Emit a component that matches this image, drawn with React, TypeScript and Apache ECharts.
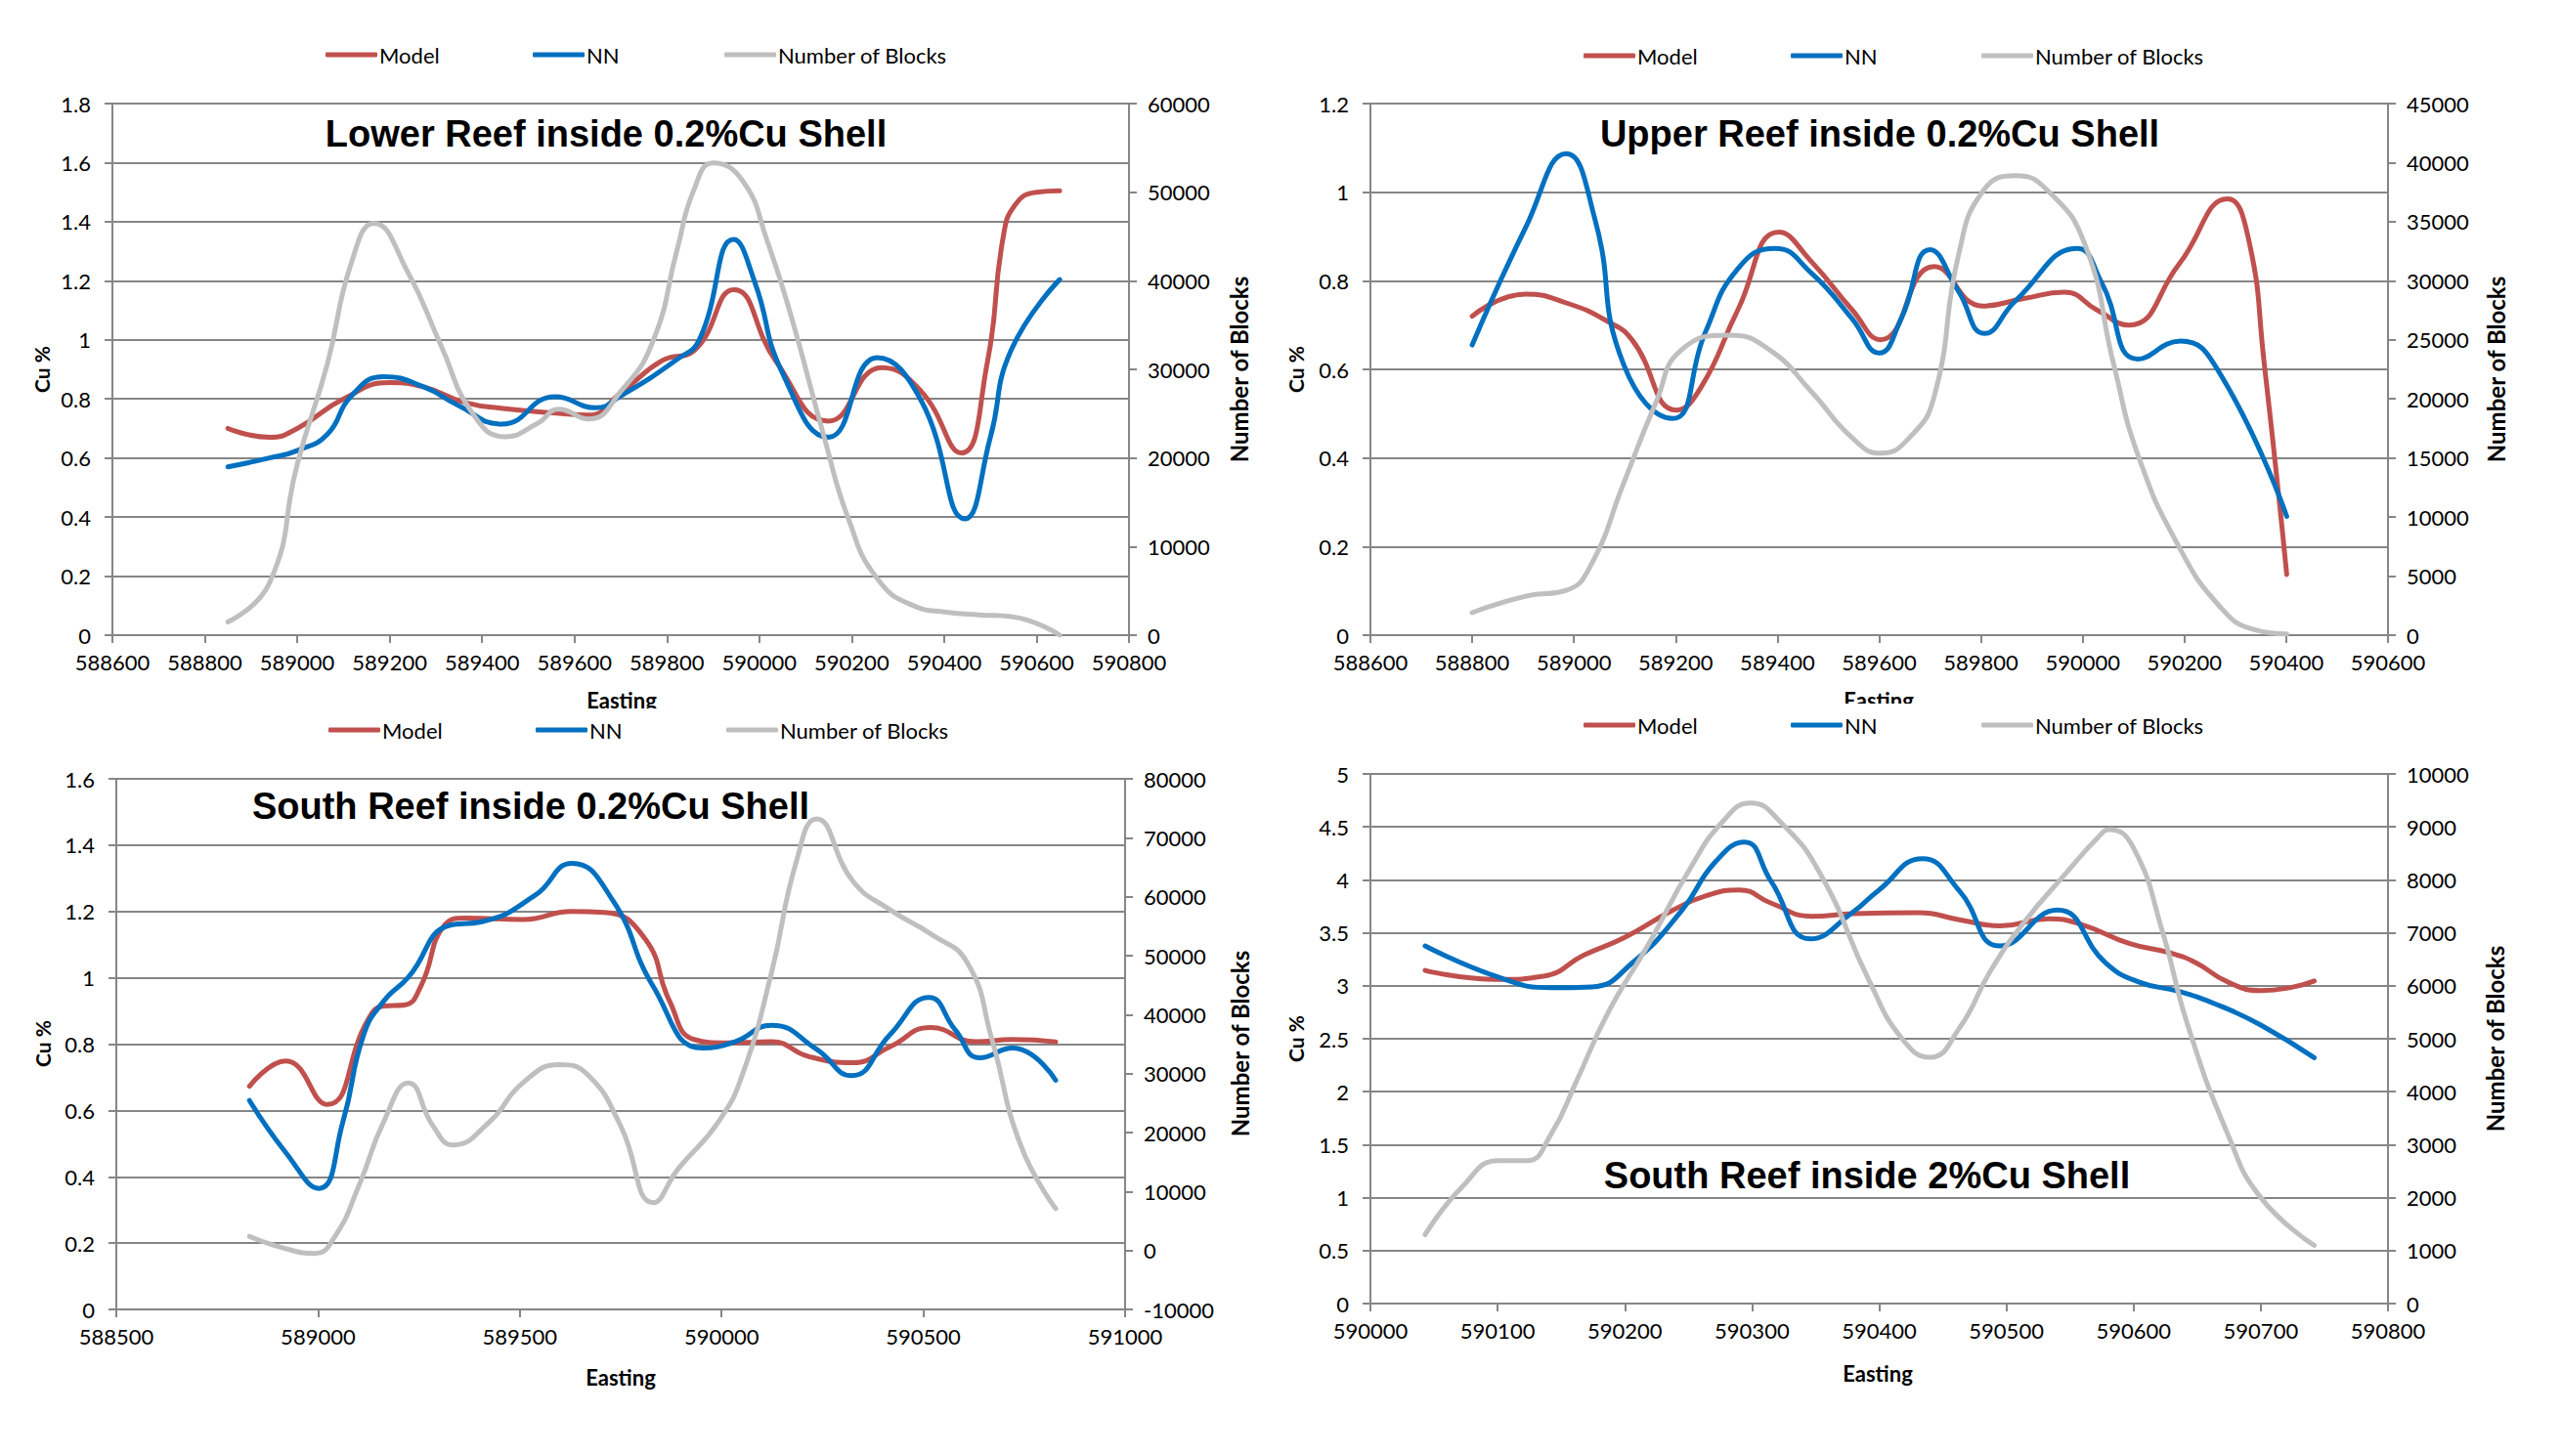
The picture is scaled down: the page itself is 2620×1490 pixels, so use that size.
import React, { useEffect, useRef } from "react";
import * as echarts from "echarts";

// ---------- DATA ----------
const seriesNames = ["Model", "NN", "Number of Blocks"];

const titles = [
  "Lower Reef inside 0.2%Cu Shell",
  "Upper Reef inside 0.2%Cu Shell",
  "South Reef inside 0.2%Cu Shell",
  "South Reef inside 2%Cu Shell",
];

// Lower Reef inside 0.2%Cu Shell  [Easting, value]
const lowerModel = [
  [588850, 0.70], [588940, 0.67], [589000, 0.70], [589100, 0.80], [589200, 0.855],
  [589275, 0.84], [589365, 0.787], [589450, 0.767], [589560, 0.752], [589630, 0.745],
  [589700, 0.82], [589790, 0.93], [589860, 0.965], [589945, 1.17], [590035, 0.93],
  [590150, 0.725], [590265, 0.906], [590350, 0.826], [590437, 0.617], [590493, 0.92],
  [590528, 1.35], [590555, 1.46], [590600, 1.50], [590650, 1.505],
];
const lowerNN = [
  [588850, 0.57], [588940, 0.60], [589000, 0.625], [589065, 0.68], [589117, 0.81],
  [589187, 0.875], [589275, 0.84], [589346, 0.78], [589443, 0.715], [589558, 0.807],
  [589646, 0.77], [589700, 0.81], [589822, 0.934], [589870, 1.0], [589945, 1.34],
  [589990, 1.196], [590050, 0.888], [590150, 0.67], [590255, 0.94], [590350, 0.795],
  [590445, 0.394], [590500, 0.67], [590545, 0.965], [590650, 1.204],
];
const lowerBlocks = [
  [588850, 1500], [588940, 5900], [589000, 19300], [589065, 30600], [589117, 42000],
  [589166, 46500], [589240, 40900], [589311, 32700], [589380, 25000], [589450, 22400],
  [589520, 23900], [589566, 25500], [589630, 24400], [589700, 27500], [589770, 33200],
  [589822, 43500], [589858, 50200], [589900, 53300], [589965, 51200], [590017, 44500],
  [590070, 35800], [590140, 22400], [590193, 13100], [590255, 6400], [590335, 3300],
  [590405, 2600], [590475, 2300], [590545, 2100], [590650, 0],
];

// Upper Reef inside 0.2%Cu Shell
const upperModel = [
  [588800, 0.72], [588905, 0.77], [588985, 0.75], [589065, 0.709], [589114, 0.667],
  [589202, 0.508], [589250, 0.56], [589322, 0.734], [589403, 0.91], [589467, 0.843],
  [589547, 0.734], [589603, 0.667], [589708, 0.832], [589804, 0.743], [589884, 0.76],
  [589964, 0.774], [590028, 0.734], [590090, 0.70], [590189, 0.837], [590285, 0.985],
  [590325, 0.899], [590357, 0.611], [590401, 0.137],
];
const upperNN = [
  [588800, 0.655], [588905, 0.92], [588985, 1.087], [589041, 0.94], [589098, 0.61],
  [589194, 0.489], [589258, 0.683], [589322, 0.827], [589395, 0.873], [589467, 0.817],
  [589547, 0.714], [589600, 0.637], [589643, 0.714], [589700, 0.87], [589756, 0.776],
  [589807, 0.681], [589868, 0.755], [589989, 0.873], [590037, 0.796], [590109, 0.623],
  [590192, 0.664], [590270, 0.59], [590401, 0.268],
];
const upperBlocks = [
  [588800, 1900], [588905, 3300], [588985, 3800], [589033, 5900], [589098, 12900],
  [589162, 19800], [589210, 24100], [589306, 25400], [589386, 24100], [589467, 20600],
  [589547, 16700], [589603, 15400], [589659, 16700], [589708, 20200], [589756, 32200],
  [589804, 37600], [589868, 38900], [589932, 37600], [590005, 33000], [590061, 22900],
  [590109, 15200], [590189, 7500], [590270, 2400], [590334, 500], [590401, 100],
];

// South Reef inside 0.2%Cu Shell
const southModel = [
  [588830, 0.673], [588920, 0.749], [589022, 0.618], [589123, 0.872], [589163, 0.915],
  [589214, 0.918], [589254, 0.973], [589315, 1.161], [589365, 1.18], [589507, 1.176],
  [589629, 1.20], [589710, 1.197], [589810, 1.118], [589871, 0.93], [589932, 0.814],
  [590013, 0.804], [590124, 0.807], [590215, 0.763], [590326, 0.744], [590417, 0.792],
  [590518, 0.85], [590630, 0.807], [590721, 0.814], [590828, 0.807],
];
const southNN = [
  [588830, 0.63], [588920, 0.473], [589002, 0.365], [589062, 0.568], [589113, 0.828],
  [589163, 0.93], [589224, 1.002], [589325, 1.158], [589406, 1.169], [589537, 1.248],
  [589629, 1.345], [589730, 1.234], [589831, 0.973], [589952, 0.788], [590033, 0.807],
  [590124, 0.857], [590235, 0.785], [590322, 0.705], [590417, 0.828], [590514, 0.941],
  [590579, 0.843], [590640, 0.759], [590721, 0.788], [590828, 0.691],
];
const southBlocks = [
  [588830, 2400], [588920, 300], [588991, -500], [589042, 2400], [589103, 11300],
  [589163, 21900], [589224, 28400], [589285, 21100], [589335, 17900], [589426, 21900],
  [589507, 28400], [589599, 31500], [589670, 29700], [589750, 21100], [589831, 8100],
  [589892, 13800], [589993, 21900], [590053, 30100], [590124, 47200], [590185, 65900],
  [590235, 73200], [590326, 62600], [590417, 57800], [590518, 53700], [590609, 48800],
  [590670, 35800], [590741, 17900], [590828, 7100],
];

// South Reef inside 2%Cu Shell
const south2Model = [
  [590043, 3.145], [590101, 3.06], [590136, 3.09], [590168, 3.29], [590200, 3.457],
  [590238, 3.715], [590264, 3.85], [590290, 3.905], [590315, 3.78], [590347, 3.656],
  [590379, 3.68], [590431, 3.69], [590463, 3.624], [590495, 3.566], [590533, 3.633],
  [590559, 3.579], [590597, 3.398], [590629, 3.31], [590649, 3.217], [590674, 3.036],
  [590700, 2.955], [590726, 2.99], [590742, 3.045],
];
const south2NN = [
  [590043, 3.376], [590101, 3.08], [590142, 2.982], [590174, 2.99], [590206, 3.217],
  [590245, 3.715], [590271, 4.167], [590294, 4.357], [590315, 3.986], [590346, 3.443],
  [590379, 3.692], [590399, 3.896], [590434, 4.199], [590463, 3.896], [590495, 3.376],
  [590540, 3.715], [590578, 3.217], [590604, 3.036], [590636, 2.946], [590668, 2.81],
  [590700, 2.629], [590742, 2.321],
];
const south2Blocks = [
  [590043, 1300], [590072, 2200], [590101, 2700], [590123, 2700], [590142, 3200],
  [590162, 4200], [590187, 5500], [590219, 6800], [590251, 8200], [590277, 9100],
  [590299, 9450], [590322, 9100], [590354, 8100], [590392, 6100], [590418, 5000],
  [590440, 4650], [590463, 5200], [590488, 6300], [590514, 7200], [590546, 8100],
  [590572, 8800], [590581, 8950], [590600, 8600], [590623, 7000], [590642, 5300],
  [590674, 3200], [590700, 2000], [590742, 1100],
];

// Axis ranges [min, max, interval]
const xRanges = [
  [588600, 590800, 200],
  [588600, 590600, 200],
  [588500, 591000, 500],
  [590000, 590800, 100],
];
const leftRanges = [
  [0, 1.8, 0.2],
  [0, 1.2, 0.2],
  [0, 1.6, 0.2],
  [0, 5, 0.5],
];
const rightRanges = [
  [0, 60000, 10000],
  [0, 45000, 5000],
  [-10000, 80000, 10000],
  [0, 10000, 1000],
];

const panelData = [
  [lowerModel, lowerNN, lowerBlocks],
  [upperModel, upperNN, upperBlocks],
  [southModel, southNN, southBlocks],
  [south2Model, south2NN, south2Blocks],
];

// ---------- LAYOUT / STYLE ----------
const FONT = "Lato, 'Open Sans', 'DejaVu Sans', sans-serif";
const TITLE_FONT = "bold 38px 'Liberation Sans', Arial, sans-serif";
const COLORS = ["#C0504D", "#0070C0", "#BFBFBF"];
const AXIS_COLOR = "#868686";

const layouts = [
  {
    grid: { left: 115, top: 106, width: 1040, height: 544 },
    legendX: [333, 545, 741], legendY: 56,
    titleX: 620, titleY: 137,
    cuX: 42, nbX: 1267, midY: 378, eastX: 636, eastY: 719,
    clipY: 725,
  },
  {
    grid: { left: 1402, top: 106, width: 1041, height: 544 },
    legendX: [1620, 1832, 2027], legendY: 57,
    titleX: 1923, titleY: 137,
    cuX: 1325, nbX: 2553, midY: 378, eastX: 1922, eastY: 719,
    clipY: 720,
  },
  {
    grid: { left: 119, top: 797, width: 1032, height: 543 },
    legendX: [336, 548, 743], legendY: 747,
    titleX: 543, titleY: 825,
    cuX: 43, nbX: 1268, midY: 1068, eastX: 635, eastY: 1409,
    clipY: 0,
  },
  {
    grid: { left: 1402, top: 792, width: 1041, height: 542 },
    legendX: [1620, 1832, 2027], legendY: 742,
    titleX: 1910, titleY: 1203,
    cuX: 1325, nbX: 2552, midY: 1063, eastX: 1921, eastY: 1405,
    clipY: 0,
  },
];

const plain = (v: number) => String(v);

function buildOption() {
  const axisLine = { show: true, onZero: false, lineStyle: { color: AXIS_COLOR, width: 2 } };
  const axisTick = { show: true, inside: false, length: 8, lineStyle: { color: AXIS_COLOR, width: 2 } };
  const labelBase = { color: "#000", fontSize: 22, fontFamily: FONT };

  const grid = layouts.map((l) => ({ ...l.grid, containLabel: false }));

  const xAxis = xRanges.map((r, i) => ({
    type: "value",
    gridIndex: i,
    min: r[0],
    max: r[1],
    interval: r[2],
    axisLine,
    axisTick,
    splitLine: { show: false },
    axisLabel: { ...labelBase, margin: 16, formatter: plain },
  }));

  const yAxis: any[] = [];
  layouts.forEach((_, i) => {
    const L = leftRanges[i];
    const R = rightRanges[i];
    yAxis.push({
      type: "value",
      gridIndex: i,
      position: "left",
      min: L[0],
      max: L[1],
      interval: L[2],
      axisLine,
      axisTick,
      splitLine: { show: true, lineStyle: { color: AXIS_COLOR, width: 2 } },
      axisLabel: { ...labelBase, margin: 22 },
    });
    yAxis.push({
      type: "value",
      gridIndex: i,
      position: "right",
      min: R[0],
      max: R[1],
      interval: R[2],
      axisLine,
      axisTick,
      splitLine: { show: false },
      axisLabel: { ...labelBase, margin: 19, formatter: plain },
    });
  });

  const series: any[] = [];
  panelData.forEach((sets, i) => {
    sets.forEach((data, k) => {
      series.push({
        type: "line",
        name: seriesNames[k],
        xAxisIndex: i,
        yAxisIndex: k === 2 ? 2 * i + 1 : 2 * i,
        data,
        smooth: true,
        showSymbol: false,
        symbol: "none",
        color: COLORS[k],
        lineStyle: { color: COLORS[k], width: 5, cap: "round", join: "round" },
        z: 2 + k,
      });
    });
  });

  const legend: any[] = [];
  layouts.forEach((l) => {
    seriesNames.forEach((n, k) => {
      legend.push({
        data: [n],
        left: l.legendX[k],
        top: l.legendY - 11,
        padding: 0,
        itemGap: 0,
        itemWidth: 53,
        itemHeight: 5,
        icon: "roundRect",
        selectedMode: false,
        textStyle: { color: "#000", fontSize: 22, fontFamily: FONT, padding: [0, 0, 0, -3] },
      });
    });
  });

  const graphic: any[] = [];
  layouts.forEach((l, i) => {
    graphic.push({
      type: "text",
      x: l.titleX,
      y: l.titleY,
      z: 50,
      style: {
        text: titles[i],
        font: TITLE_FONT,
        fill: "#000",
        align: "center",
        verticalAlign: "middle",
        textAlign: "center",
        textVerticalAlign: "middle",
      },
    });
    graphic.push({
      type: "text",
      x: l.cuX,
      y: l.midY,
      rotation: Math.PI / 2,
      z: 50,
      style: {
        text: "Cu %",
        font: `bold 21px ${FONT}`,
        fill: "#000",
        align: "center",
        verticalAlign: "middle",
        textAlign: "center",
        textVerticalAlign: "middle",
      },
    });
    graphic.push({
      type: "text",
      x: l.nbX,
      y: l.midY,
      rotation: Math.PI / 2,
      z: 50,
      style: {
        text: "Number of Blocks",
        font: `bold 24px ${FONT}`,
        fill: "#000",
        align: "center",
        verticalAlign: "middle",
        textAlign: "center",
        textVerticalAlign: "middle",
      },
    });
    graphic.push({
      type: "text",
      x: l.eastX,
      y: l.clipY ? l.eastY - 3 : l.eastY,
      z: 50,
      style: {
        text: "Easting",
        font: `bold 22px ${FONT}`,
        fill: "#000",
        align: "center",
        verticalAlign: "middle",
        textAlign: "center",
        textVerticalAlign: "middle",
      },
    });
    if (l.clipY) {
      // the lower charts' area overlaps (clips) the upper charts' "Easting" titles
      graphic.push({
        type: "rect",
        z: 60,
        shape: { x: l.grid.left, y: l.clipY, width: l.grid.width, height: 729 - l.clipY },
        style: { fill: "#ffffff" },
      });
    }
  });

  return {
    animation: false,
    backgroundColor: "#ffffff",
    textStyle: { fontFamily: FONT },
    grid,
    xAxis,
    yAxis,
    series,
    legend,
    graphic,
  };
}

export default function App() {
  const ref = useRef<HTMLDivElement>(null);
  useEffect(() => {
    if (!ref.current) return;
    const chart = echarts.init(ref.current, undefined, { renderer: "svg" });
    chart.setOption(buildOption() as any);
    return () => chart.dispose();
  }, []);
  return (
    <div
      ref={ref}
      style={{ position: "fixed", left: 0, top: 0, width: 2620, height: 1490, background: "#fff" }}
    />
  );
}
